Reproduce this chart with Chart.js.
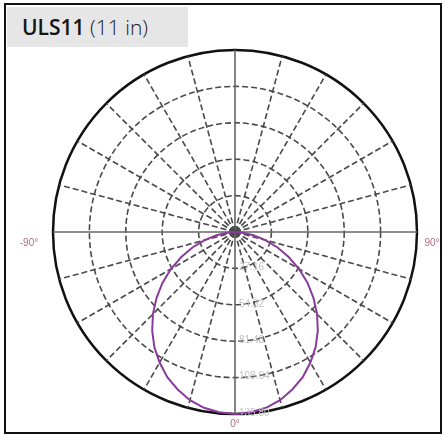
<!DOCTYPE html>
<html>
<head>
<meta charset="utf-8">
<script src="https://cdn.jsdelivr.net/npm/chart.js@4"></script>
<style>
  html, body { margin: 0; padding: 0; background: #fff; }
  #wrap { position: relative; width: 445px; height: 436px; overflow: hidden; }
  #frame { position: absolute; left: 4px; top: 3px; width: 434px; height: 427px; border: 2px solid #111; }
  #title { position: absolute; left: 7px; top: 7px; width: 181px; height: 40px; background: #e6e6e6;
           font-family: "Open Sans", sans-serif; font-size: 21px; color: #151515; line-height: 40px; padding-left: 15px; box-sizing: border-box; }
  #title b { font-weight: 600; }
  #title span { font-weight: 300; color: #222; }
  canvas { position: absolute; left: 0; top: 0; }
</style>
</head>
<body>
<div id="wrap">
  <canvas id="myChart" width="445" height="436"></canvas>
  <div id="frame"></div>
  <div id="title"><b>ULS11</b> <span>(11 in)</span></div>
</div>
<script>
	// 각도 (5도 간격, 0도 = 아래쪽)
	var angleStep = 5;
	// 0~90도 광도값 (그림에서 읽은 값, cd)
	var intensity = [135.8, 135.0, 133.2, 129.9, 125.0, 119.6, 112.5, 104.9, 96.1, 86.6,
	                 76.4, 66.0, 55.2, 44.2, 33.8, 23.5, 14.0, 5.8, 0];
	// 눈금 값
	var tickValues = [0, 4, 27.16, 54.32, 81.48, 108.64, 135.8];
	var tickLabels = ['27.16', '54.32', '81.48', '108.64', '135.80'];
	// 축 라벨
	var axisLabels = { 0: '0°', 90: '90°', 180: '±180°', '-90': '-90°' };

	var labels = [];
	var values = [];
	for (let i = 0; i < 360 / angleStep; i++) {
		let a = -i * angleStep;
		if (a < -180) a += 360;
		labels.push(a);
		let k = Math.abs(a) / angleStep;
		values.push(k < intensity.length ? intensity[k] : 0);
	}

	// 라벨 그리기 플러그인
	var labelPlugin = {
		id: 'labelPlugin',
		afterDraw(chart) {
			let scale = chart.scales.r;
			let ctx = chart.ctx;
			ctx.save();
			// 각도 라벨
			ctx.font = '10px "Liberation Sans", Arial, sans-serif';
			ctx.fillStyle = '#b06a7a';
			ctx.textAlign = 'center';
			ctx.textBaseline = 'middle';
			labels.forEach((a, i) => {
				let txt = axisLabels[a];
				if (!txt) return;
				let p = scale.getPointPosition(i, scale.drawingArea + 9);
				let dy = (a == 90 || a == -90) ? 11 : (a == 0 ? 1 : -2);
				let dx = a == 90 ? 6 : (a == -90 ? -15 : 0);
				ctx.fillText(txt, p.x + dx, p.y + dy);
			});
			// 눈금 라벨
			ctx.fillStyle = '#c2c2c2';
			ctx.textAlign = 'left';
			ctx.font = '10px "Liberation Sans", Arial, sans-serif';
			tickLabels.forEach((t, i) => {
				let d = scale.getDistanceFromCenterForValue(tickValues[i + 2]);
				let p = scale.getPointPosition(0, d);
				ctx.fillText(t, p.x + 4, p.y - 1);
			});
			ctx.restore();
		}
	};

	var data = {
		labels: labels,
		datasets: [{
			data: values,
			borderColor: '#8b3b9c',
			borderWidth: 2,
			backgroundColor: 'transparent',
			fill: false,
			pointRadius: 0,
			tension: 0
		}]
	};

	var options = {
		responsive: false,
		animation: false,
		layout: { padding: { left: 53, right: 28, top: 50, bottom: 22 } },
		plugins: { legend: { display: false }, tooltip: { enabled: false } },
		scales: {
			r: {
				min: 0,
				max: 135.8,
				startAngle: 180,
				afterBuildTicks: (s) => { s.ticks = tickValues.map(v => ({ value: v })); },
				ticks: { display: false },
				pointLabels: { display: false },
				grid: {
					circular: true,
					color: (c) => c.tick && c.tick.value == 135.8 ? '#111' : '#4a4a4a',
					lineWidth: (c) => c.tick && c.tick.value == 135.8 ? 2.5 : 1.6
				},
				border: {
					dash: (c) => (c.tick && (c.tick.value == 135.8 || c.tick.value == 4)) ? [] : [6, 3]
				},
				angleLines: {
					color: (c) => c.index % 3 == 0 ? (c.index % 18 == 0 ? '#666' : '#4a4a4a') : 'transparent',
					lineWidth: 1.6,
					borderDash: (c) => c.index % 18 == 0 ? [] : [6, 3]
				}
			}
		}
	};

	var ctx = document.getElementById('myChart').getContext('2d');
	var myChart = new Chart(ctx, {
		type: 'radar',
		data: data,
		options: options,
		plugins: [labelPlugin]
	});
</script>
</body>
</html>
